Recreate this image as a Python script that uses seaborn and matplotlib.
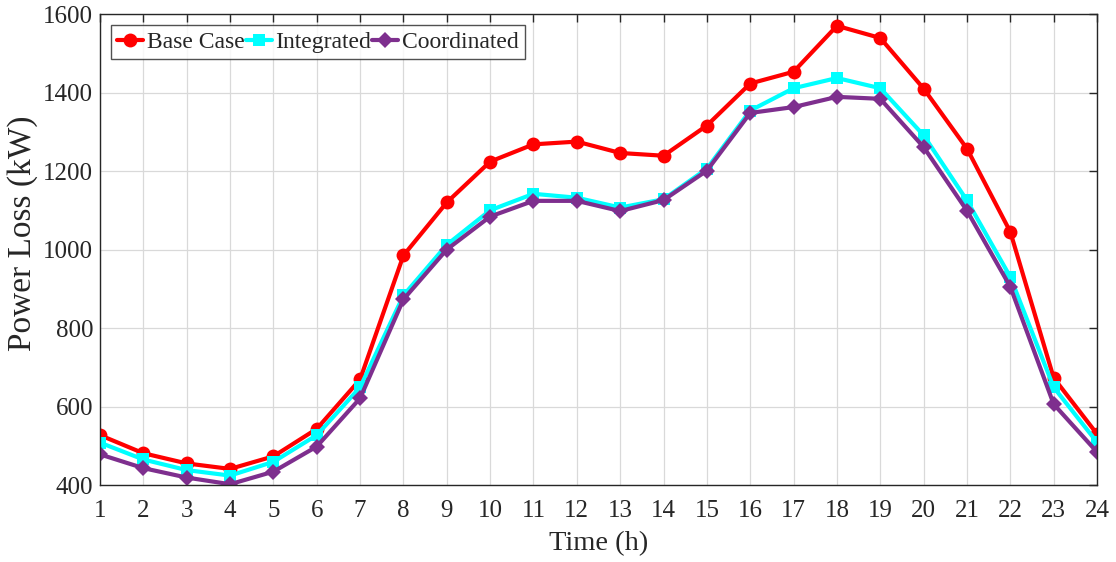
import numpy as np
import pandas as pd
import matplotlib
matplotlib.use("Agg")
import matplotlib.pyplot as plt
import seaborn as sns

hours = list(range(1, 25))
base_case = [527, 481, 455, 441, 473, 543, 669, 985, 1120, 1224, 1268, 1275,
             1246, 1239, 1316, 1423, 1453, 1570, 1539, 1410, 1257, 1045, 673, 530]
integrated = [508, 465, 438, 424, 459, 527, 649, 883, 1012, 1100, 1142, 1132,
              1107, 1128, 1206, 1354, 1411, 1437, 1411, 1291, 1125, 930, 649, 509]
coordinated = [478, 443, 419, 402, 434, 498, 621, 873, 1000, 1084, 1124, 1124,
               1098, 1126, 1201, 1348, 1363, 1389, 1384, 1261, 1099, 905, 606, 484]
series_names = ["Base Case", "Integrated", "Coordinated"]

df = pd.DataFrame({
    "Time (h)": hours * 3,
    "Power Loss (kW)": base_case + integrated + coordinated,
    "Scenario": [series_names[0]] * 24 + [series_names[1]] * 24 + [series_names[2]] * 24,
})

sns.set_theme(style="white")
plt.rcParams["font.family"] = ["Liberation Serif", "DejaVu Serif"]
plt.rcParams["mathtext.fontset"] = "stix"

fig = plt.figure(figsize=(11.16, 5.62), dpi=100)
ax = fig.add_axes([0.0896, 0.137, 0.8934, 0.838])

palette = {"Base Case": "#FF0000", "Integrated": "#00FFFF", "Coordinated": "#7E2F8E"}
markers = {"Base Case": "o", "Integrated": "s", "Coordinated": "D"}

sns.lineplot(data=df, x="Time (h)", y="Power Loss (kW)", hue="Scenario",
             style="Scenario", markers=markers, dashes=False, palette=palette,
             hue_order=series_names, style_order=series_names,
             linewidth=3, markersize=9, markeredgewidth=0, ax=ax, legend=True)

# per-shape marker sizes
for line in ax.lines:
    m = line.get_marker()
    if m == "o":
        line.set_markersize(10)
    elif m == "s":
        line.set_markersize(8.5)
    elif m == "D":
        line.set_markersize(8)

ax.set_xlim(1, 24)
ax.set_ylim(400, 1600)
ax.set_xticks(hours)
ax.set_yticks(np.arange(400, 1601, 200))
ax.grid(True, color="#d9d9d9", linewidth=0.9)
ax.set_axisbelow(True)
for sp in ax.spines.values():
    sp.set_visible(True)
    sp.set_color("#262626")
    sp.set_linewidth(1.0)
ax.tick_params(direction="in", length=6, width=1, top=True, right=True,
               labelsize=18, colors="#262626")
ax.tick_params(axis="x", pad=11)
ax.tick_params(axis="y", pad=5)
ax.set_xlabel("Time (h)", fontsize=20.5, color="#262626", labelpad=6)
ax.set_ylabel("Power Loss (kW)", fontsize=24, color="#262626")
ax.yaxis.set_label_coords(-0.062, 0.535)

handles, labels = ax.get_legend_handles_labels()
for h in handles:
    h.set_linewidth(3)
leg = ax.legend(handles, labels, loc="upper left", ncol=3, fontsize=17,
                frameon=True, fancybox=False, edgecolor="#262626",
                handlelength=1.1, handletextpad=0.15, columnspacing=0.05,
                borderpad=0.28, borderaxespad=0.45)
leg.get_frame().set_linewidth(1.0)

fig.savefig("out.png", dpi=100)
